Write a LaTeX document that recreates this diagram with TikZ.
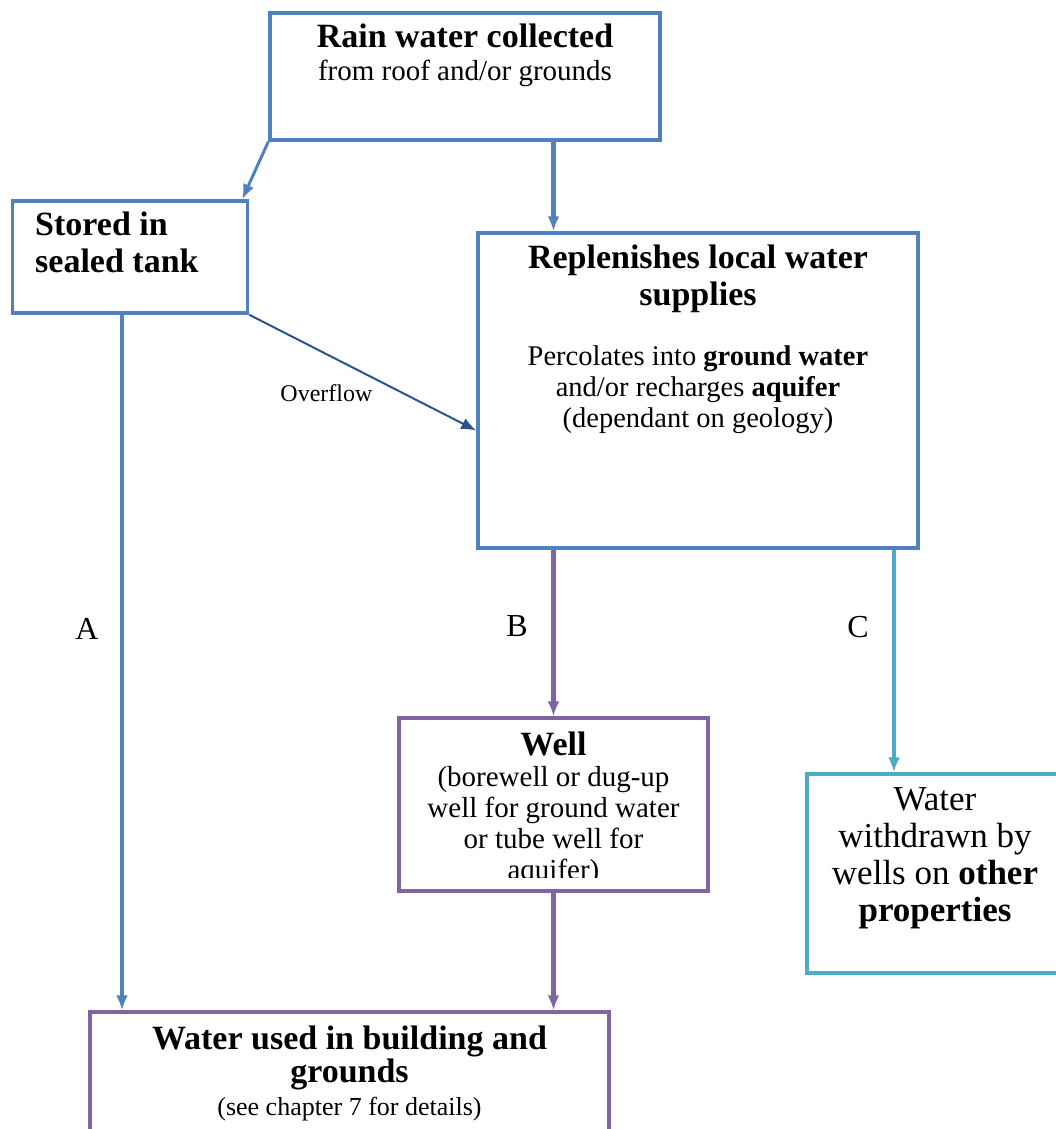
\documentclass[tikz,border=0pt]{standalone}
\usepackage{fontspec}
\setmainfont{Liberation Serif}
\usetikzlibrary{arrows.meta}

\definecolor{boxblue}{HTML}{4F81BD}
\definecolor{boxpurple}{HTML}{8064A2}
\definecolor{boxteal}{HTML}{4BACC6}
\definecolor{flowdark}{HTML}{2A5490}

\newcommand\fsz[2]{\fontsize{#1}{#2}\selectfont
   \spaceskip=\fontdimen2\font\xspaceskip=\fontdimen2\font\relax}

\begin{document}
\begin{tikzpicture}[x=1pt,y=-1pt,
   panel/.style={draw=#1, line width=3.5pt, inner sep=0pt},
   txt/.style={anchor=base, align=center, inner sep=0pt},
   flow/.style={draw=#1, line width=3.5pt, -{Latex[length=15pt,width=12pt]}}]
   \clip (0,0) rectangle (1056,1129);

   \node[panel=boxblue, minimum width=390pt, minimum height=127pt] (rain) at (465,76.5) {};
   \node[panel=boxblue, minimum width=235pt, minimum height=112pt] (stored) at (130,257) {};
   \node[panel=boxblue, minimum width=440pt, minimum height=315pt] (repl) at (698,390.5) {};
   \node[panel=boxpurple, minimum width=309pt, minimum height=173pt] (well) at (553.5,804.5) {};
   \node[panel=boxteal, minimum width=255pt, minimum height=199pt] (withdr) at (934.5,873.5) {};
   \node[panel=boxpurple, minimum width=519pt, minimum height=148pt] (used) at (349.5,1086) {};

   \node[txt, text width=380pt] (raintxt) at (465,48)
      {\fsz{34}{38}\bfseries Rain water collected\par
       \fsz{29}{33}\mdseries from roof and/or grounds\par};
   \node[txt, anchor=base west, align=left, text width=200pt] (storedtxt) at (35,235)
      {\fsz{34}{37}\bfseries Stored in\\ sealed tank\par};
   \node[txt, text width=430pt] (repltxt) at (698,268)
      {\fsz{34}{37}\bfseries Replenishes local water\\ supplies\par
       \vspace*{29pt}\fsz{28.5}{31}\mdseries Percolates into \textbf{ground water}\\
       and/or recharges \textbf{aquifer}\\ (dependant on geology)\par};
   \begin{scope}
      \clip (399,718) rectangle (708,877);
      \node[txt, text width=300pt] (welltxt) at (553.5,755)
         {\fsz{34}{37}\bfseries Well\par
          \fsz{29}{31}\mdseries (borewell or dug-up\\ well for ground water\\
          or tube well for\\ aquifer)\par};
   \end{scope}
   \node[txt, text width=245pt] (withdrtxt) at (935,810)
      {\fsz{35}{37.3}Water\\ withdrawn by\\ wells on \textbf{other}\\ \textbf{properties}\par};
   \node[txt, text width=510pt] (usedtxt) at (349.5,1049)
      {\fsz{34}{33}\bfseries Water used in building and\\ grounds\par
       \fsz{26}{33}\mdseries (see chapter 7 for details)\par};

   \coordinate (colA) at (122,0);
   \coordinate (colC) at (894,0);
   \node[txt, font=\fsz{32}{32}] (labA) at (87,639) {A};
   \node[txt, font=\fsz{32}{32}] (labB) at (517,636) {B};
   \node[txt, font=\fsz{32}{32}] (labC) at (858,637) {C};

   \draw[flow=boxblue, line width=3pt] (rain.south west) -- ([xshift=-7pt]stored.north east);
   \draw[flow=boxblue, line width=4.5pt] (rain.south -| well.north) -- (repl.north -| well.north);
   \draw[flow=flowdark, line width=2pt] (stored.south east) -- ([yshift=-40pt]repl.west)
      node[pos=.34, below=29pt, inner sep=0pt, text=black, font=\fsz{24}{24}] (ovf) {Overflow};
   \draw[flow=boxblue] (stored.south -| colA) -- (used.north -| colA);
   \draw[flow=boxpurple, line width=4.5pt] (repl.south -| well.north) -- (well.north);
   \draw[flow=boxteal] (repl.south -| colC) -- (withdr.north -| colC);
   \draw[flow=boxpurple, line width=4.5pt] (well.south) -- (used.north -| well.south);
\end{tikzpicture}
\end{document}
